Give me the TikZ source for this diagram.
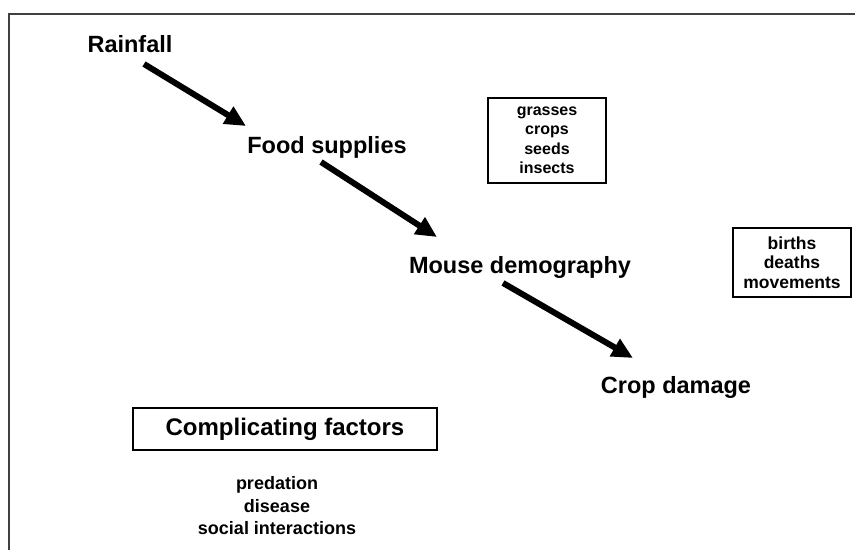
\documentclass[tikz,border=0pt]{standalone}
\usepackage{fontspec}
\setmainfont{Liberation Sans}
\usetikzlibrary{arrows.meta,calc}

\begin{document}
\begin{tikzpicture}[x=1pt, y=-1pt, >={Triangle[length=21pt,width=19pt]},
  big/.style={anchor=base, inner sep=0pt, font=\bfseries\fontsize{23.5}{28}\selectfont},
  small/.style={align=center, inner sep=0pt, font=\bfseries\fontsize{16}{19.5}\selectfont},
  box/.style={draw, line width=2pt},
  flow/.style={->, line width=6pt}]
\useasboundingbox (0,0) rectangle (855,550);
\draw[line width=2pt, black!75] (9,550) -- (9,14) -- (855,14);
\node[big] (rain)  at (130,52)  {Rainfall};
\node[big] (food)  at (327,153) {Food supplies};
\node[big] (mouse) at (520,273) {Mouse demography};
\node[big] (crop)  at (676,393) {Crop damage};
\node[small, box, minimum width=118pt, minimum height=85pt] (foods) at (547,140.5) {grasses\\crops\\seeds\\insects};
\node[small, box, font=\bfseries\fontsize{17.5}{19.5}\selectfont, minimum width=118pt, minimum height=69pt] (fates) at (792,262.5) {births\\deaths\\movements};
\node[big, box, anchor=center, font=\bfseries\fontsize{24}{28}\selectfont, minimum width=304pt, minimum height=42pt] (compl) at (285,429) {Complicating factors};
\node[small, font=\bfseries\fontsize{18}{22.5}\selectfont] (extra) at (277,506) {predation\\disease\\social interactions};
\draw[flow] ($(rain.base)+(14,12)$)   -- ($(food.base)+(-81,-27)$);
\draw[flow] ($(food.base)+(-6,9)$)    -- ($(mouse.base)+(-83,-36)$);
\draw[flow] ($(mouse.base)+(-17,10)$) -- ($(crop.base)+(-43,-35)$);
\end{tikzpicture}
\end{document}
